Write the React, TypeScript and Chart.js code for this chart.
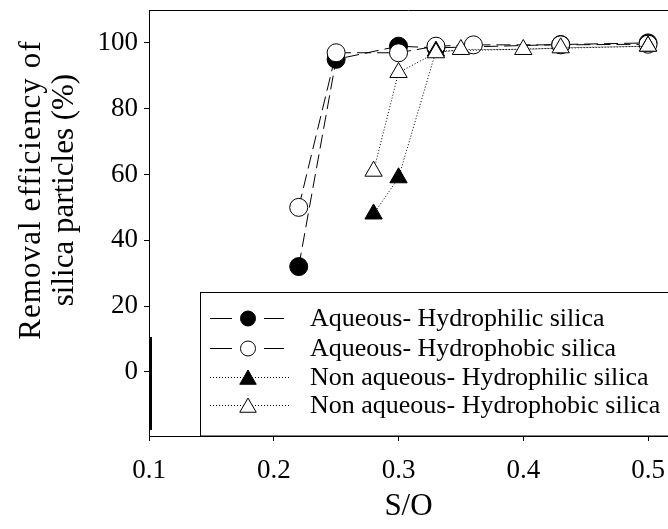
import React, { useEffect, useRef } from 'react';
import { Chart, registerables } from 'chart.js';

Chart.register(...registerables);

// S/O ratio (x) and removal efficiency in % (y) per series
const xAqHydrophilic = [0.22, 0.25, 0.30, 0.33, 0.43, 0.50];
const yAqHydrophilic = [32, 95, 99, 98.5, 99.5, 100];
const xAqHydrophobic = [0.22, 0.25, 0.30, 0.33, 0.36, 0.43, 0.50];
const yAqHydrophobic = [50, 97, 97, 99, 99.4, 99.4, 99.6];
const xNaHydrophilic = [0.28, 0.30, 0.33, 0.50];
const yNaHydrophilic = [48, 59, 97.5, 99];
const xNaHydrophobic = [0.28, 0.30, 0.33, 0.35, 0.40, 0.43, 0.50];
const yNaHydrophobic = [61, 91, 97, 98, 98, 98.5, 99];

const seriesLabels = [
  'Aqueous- Hydrophilic silica',
  'Aqueous- Hydrophobic silica',
  'Non aqueous- Hydrophilic silica',
  'Non aqueous- Hydrophobic silica',
];
const xTitle = 'S/O';
const yTitleLines = ['Removal efficiency of', 'silica particles (%)'];

const FONT = "'Liberation Serif', 'Times New Roman', serif";

const toPts = (xs: number[], ys: number[]) => xs.map((x, i) => ({ x, y: ys[i] }));

const legendStyles = [
  { kind: 'dash', shape: 'circle', fill: '#000' },
  { kind: 'dash', shape: 'circle', fill: '#fff' },
  { kind: 'dot', shape: 'triangle', fill: '#000' },
  { kind: 'dot', shape: 'triangle', fill: '#fff' },
];

function drawMarker(ctx: CanvasRenderingContext2D, shape: string, x: number, y: number, r: number, fill: string) {
  ctx.beginPath();
  if (shape === 'circle') {
    ctx.arc(x, y, r, 0, Math.PI * 2);
  } else {
    ctx.moveTo(x, y - r);
    ctx.lineTo(x + Math.sin((2 * Math.PI) / 3) * r, y + 0.5 * r);
    ctx.lineTo(x - Math.sin((2 * Math.PI) / 3) * r, y + 0.5 * r);
    ctx.closePath();
  }
  ctx.fillStyle = fill;
  ctx.fill();
  ctx.setLineDash([]);
  ctx.lineWidth = 1;
  ctx.strokeStyle = '#000';
  ctx.stroke();
}

const decorPlugin = {
  id: 'decor',
  afterDraw(chart: any) {
    const ctx: CanvasRenderingContext2D = chart.ctx;
    const { left, top } = chart.chartArea;
    ctx.save();
    // top frame line
    ctx.strokeStyle = '#000';
    ctx.lineWidth = 1;
    ctx.beginPath();
    ctx.moveTo(left, top + 0.5);
    ctx.lineTo(chart.width, top + 0.5);
    ctx.stroke();
    // thicker segment on left axis
    ctx.fillStyle = '#000';
    ctx.fillRect(left, 337, 3, 93);

    // legend box
    const bx = 200.5, by = 292.5, bw = 480, bh = 143.5;
    ctx.fillStyle = '#fff';
    ctx.fillRect(bx, by, bw, bh);
    ctx.strokeStyle = '#000';
    ctx.lineWidth = 1;
    ctx.strokeRect(bx, by, bw, bh);
    const rows = [318, 348, 377, 405];
    ctx.font = `26px ${FONT}`;
    ctx.textBaseline = 'middle';
    ctx.textAlign = 'left';
    legendStyles.forEach((st, i) => {
      const y = rows[i] + 0.5;
      ctx.strokeStyle = '#000';
      ctx.lineWidth = 1;
      if (st.kind === 'dash') {
        ctx.setLineDash([]);
        ctx.beginPath();
        ctx.moveTo(210, y); ctx.lineTo(232, y);
        ctx.moveTo(264, y); ctx.lineTo(284, y);
        ctx.stroke();
      } else {
        ctx.setLineDash([1, 2]);
        ctx.beginPath();
        ctx.moveTo(210, y); ctx.lineTo(290, y);
        ctx.stroke();
      }
      drawMarker(ctx, st.shape, 248, st.shape === 'circle' ? y : y + 2, st.shape === 'circle' ? 7.5 : 9.5, st.fill);
      ctx.fillStyle = '#000';
      ctx.fillText(seriesLabels[i], 310, rows[i] + 1);
    });

    // y axis title (two lines)
    ctx.font = `31px ${FONT}`;
    ctx.fillStyle = '#000';
    ctx.textAlign = 'center';
    ctx.textBaseline = 'middle';
    const xs = [32, 65];
    const spacing = ['1.1px', '0px'];
    yTitleLines.forEach((t, i) => {
      ctx.save();
      (ctx as any).letterSpacing = spacing[i];
      ctx.translate(xs[i], 190);
      ctx.rotate(-Math.PI / 2);
      ctx.fillText(t, 0, 0);
      ctx.restore();
    });
    ctx.restore();
  },
};

export default function App() {
  const ref = useRef<HTMLCanvasElement | null>(null);
  useEffect(() => {
    if (!ref.current) return;
    const base = {
      borderColor: '#000',
      borderWidth: 1,
      pointBorderColor: '#000',
      pointBorderWidth: 1,
      showLine: true,
      tension: 0,
    };
    const chart = new Chart(ref.current, {
      type: 'scatter',
      data: {
        datasets: [
          {
            ...base,
            label: seriesLabels[3],
            data: toPts(xNaHydrophobic, yNaHydrophobic),
            borderDash: [1, 2],
            pointStyle: 'triangle',
            pointRadius: 10,
            pointBackgroundColor: '#fff',
            order: 1,
          },
          {
            ...base,
            label: seriesLabels[2],
            data: toPts(xNaHydrophilic, yNaHydrophilic),
            borderDash: [1, 2],
            pointStyle: 'triangle',
            pointRadius: 10,
            pointBackgroundColor: '#000',
            order: 2,
          },
          {
            ...base,
            label: seriesLabels[1],
            data: toPts(xAqHydrophobic, yAqHydrophobic),
            borderDash: [14, 6],
            pointStyle: 'circle',
            pointRadius: 9,
            pointBackgroundColor: '#fff',
            order: 3,
          },
          {
            ...base,
            label: seriesLabels[0],
            data: toPts(xAqHydrophilic, yAqHydrophilic),
            borderDash: [14, 6],
            pointStyle: 'circle',
            pointRadius: 9,
            pointBackgroundColor: '#000',
            order: 4,
          },
        ],
      },
      options: {
        responsive: false,
        animation: false,
        events: [],
        layout: { autoPadding: false, padding: { left: 0, top: 10, right: 0, bottom: 0 } },
        plugins: {
          legend: { display: false },
          tooltip: { enabled: false },
        },
        scales: {
          x: {
            type: 'linear',
            min: 0.1,
            max: 0.516,
            afterFit: (s: any) => {
              s.height = 93;
              s.paddingLeft = 0; s.paddingRight = 0; s.paddingTop = 0; s.paddingBottom = 0;
            },
            ticks: {
              stepSize: 0.1,
              includeBounds: false,
              color: '#000',
              padding: 14,
              font: { family: FONT, size: 27 },
              callback: (v: any) => Number(v).toFixed(1),
            },
            grid: { display: true, drawOnChartArea: false, drawTicks: true, tickLength: 5, color: '#000' },
            border: { display: true, color: '#000', width: 1 },
            title: {
              display: true,
              text: xTitle,
              color: '#000',
              font: { family: FONT, size: 31 },
              padding: { top: 0, bottom: 4 },
            },
          },
          y: {
            type: 'linear',
            min: -19.5,
            max: 110,
            afterFit: (s: any) => {
              s.width = 149;
              s.paddingLeft = 0; s.paddingRight = 0; s.paddingTop = 0; s.paddingBottom = 0;
            },
            ticks: {
              stepSize: 20,
              includeBounds: false,
              color: '#000',
              padding: 6,
              font: { family: FONT, size: 27 },
            },
            grid: { display: true, drawOnChartArea: false, drawTicks: true, tickLength: 5, color: '#000' },
            border: { display: true, color: '#000', width: 1 },
          },
        },
      },
      plugins: [decorPlugin],
    } as any);
    return () => chart.destroy();
  }, []);
  return (
    <div style={{ position: 'absolute', left: 0, top: 0, width: 668, height: 529 }}>
      <canvas ref={ref} width={668} height={529} style={{ display: 'block' }} />
    </div>
  );
}
